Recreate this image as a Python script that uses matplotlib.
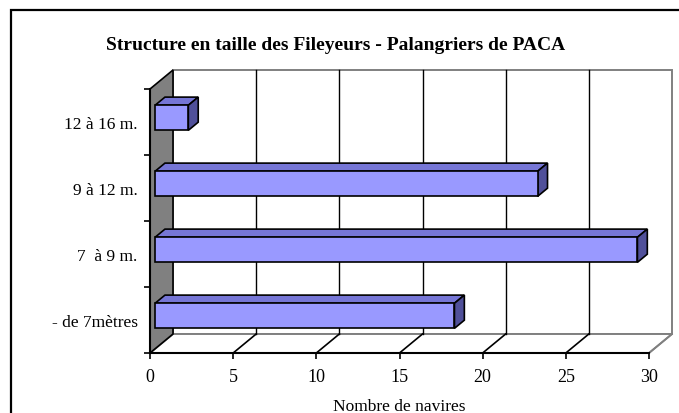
import matplotlib
matplotlib.use('Agg')
import matplotlib.pyplot as plt
from matplotlib.patches import Polygon, Rectangle

# data (bottom to top)
categories = ['- de 7mètres', '7  à 9 m.', '9 à 12 m.', '12 à 16 m.']
navires = [18, 29, 23, 2]
xticks = [0, 5, 10, 15, 20, 25, 30]

plt.rcParams['font.family'] = ['Liberation Serif', 'DejaVu Serif']

# oblique 3d look: depth shift in data units
XMAX = 30
NCAT = len(categories)
DX = 23 / 499 * XMAX
DY = 19 / 264 * NCAT
D0, D1 = 0.22, 0.65   # bar depth
BH = 0.38             # bar thickness

def P(v, c, d):
    return (v + d * DX, c + d * DY)

fig = plt.figure(figsize=(6.79, 4.14), dpi=100)
ax = fig.add_axes([150 / 679, 60 / 414, 499 / 679, 264 / 414])
ax.set_xlim(0, XMAX)
ax.set_ylim(0, NCAT)
ax.patch.set_visible(False)

gray = '#808080'
# back wall
ax.add_patch(Polygon([P(0, 0, 1), P(XMAX, 0, 1), P(XMAX, NCAT, 1), P(0, NCAT, 1)],
                     closed=True, fc='white', ec=gray, lw=1.4, clip_on=False, zorder=1))
# floor
ax.add_patch(Polygon([P(0, 0, 0), P(XMAX, 0, 0), P(XMAX, 0, 1), P(0, 0, 1)],
                     closed=True, fc='white', ec=gray, lw=1.4, clip_on=False, zorder=1))
# left wall
ax.add_patch(Polygon([P(0, 0, 0), P(0, NCAT, 0), P(0, NCAT, 1), P(0, 0, 1)],
                     closed=True, fc=gray, ec='black', lw=1.2, clip_on=False, zorder=2))

# grid lines on back wall and floor
for v in xticks[1:-1]:
    ax.plot(*zip(P(v, 0, 1), P(v, NCAT, 1)), color='black', lw=1.0, clip_on=False, zorder=1.5)
for v in xticks[1:]:
    col = gray if v == XMAX else 'black'
    ax.plot(*zip(P(v, 0, 0), P(v, 0, 1)), color=col, lw=1.2, clip_on=False, zorder=1.5)

# bars
for i, val in enumerate(navires):
    c0 = i + 0.5 - BH / 2
    c1 = i + 0.5 + BH / 2
    top = [P(0, c1, D0), P(val, c1, D0), P(val, c1, D1), P(0, c1, D1)]
    side = [P(val, c0, D0), P(val, c1, D0), P(val, c1, D1), P(val, c0, D1)]
    front = [P(0, c0, D0), P(val, c0, D0), P(val, c1, D0), P(0, c1, D0)]
    ax.add_patch(Polygon(top, closed=True, fc='#7676D6', ec='black', lw=1.2, clip_on=False, zorder=3))
    ax.add_patch(Polygon(side, closed=True, fc='#50509A', ec='black', lw=1.2, clip_on=False, zorder=3))
    ax.add_patch(Polygon(front, closed=True, fc='#9999FF', ec='black', lw=1.2, clip_on=False, zorder=3))

for s in ['top', 'right']:
    ax.spines[s].set_visible(False)
for s in ['left', 'bottom']:
    ax.spines[s].set_linewidth(1.5)
    ax.spines[s].set_zorder(4)

ax.set_xticks(xticks)
ax.tick_params(axis='x', length=4, width=1.2, pad=7, labelsize=13)
ax.set_yticks(range(NCAT + 1))
ax.set_yticklabels([])
ax.tick_params(axis='y', which='major', length=4, width=1.2)
ax.set_yticks([i + 0.5 for i in range(NCAT)], minor=True)
ax.set_yticklabels(categories, minor=True)
ax.tick_params(axis='y', which='minor', length=0, pad=9, labelsize=12.5)

ax.set_xlabel('Nombre de navires', fontsize=12.5, labelpad=9)

fig.text(336 / 679, 1 - 45 / 414, 'Structure en taille des Fileyeurs - Palangriers de PACA',
         ha='center', va='center', fontsize=14, fontweight='bold')

# chart frame
fig.patches.append(Rectangle((11 / 679, -0.1), 2, 1.1 - 11 / 414,
                             transform=fig.transFigure, fill=False, ec='black', lw=1.6))

fig.savefig('out.png', dpi=100)
